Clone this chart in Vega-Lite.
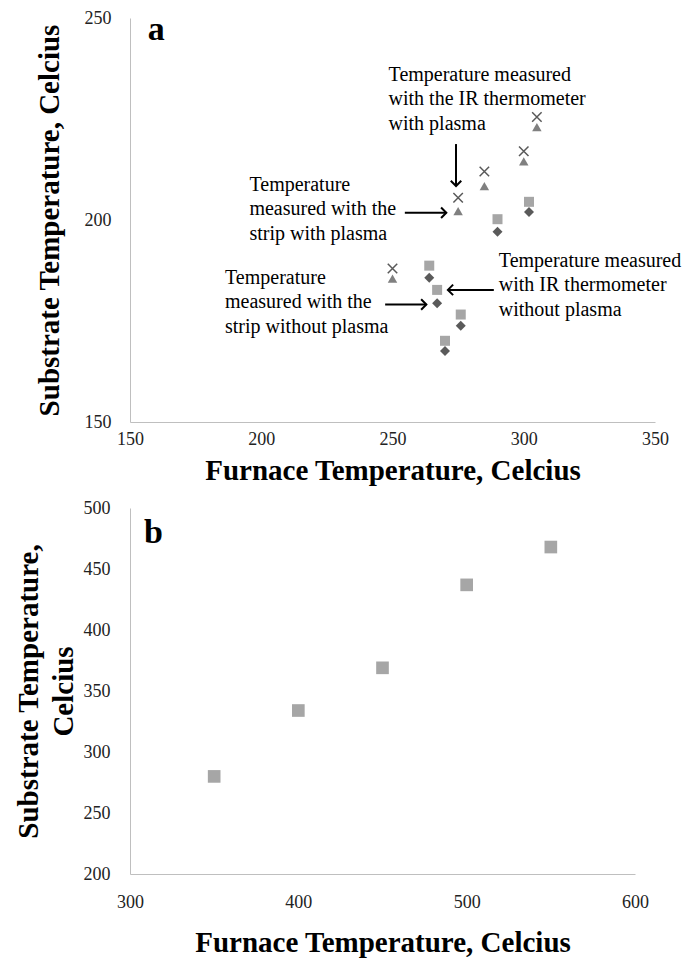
{
  "$schema": "https://vega.github.io/schema/vega-lite/v6.json",
  "background": "white",
  "padding": {"left": 14, "top": 9, "right": 2, "bottom": 2},
  "bounds": "flush",
  "spacing": 86,
  "config": {
    "font": "Liberation Serif",
    "view": {"stroke": null},
    "axis": {
      "domainColor": "#bfbfbf",
      "domainWidth": 1,
      "ticks": false,
      "grid": false,
      "labelFont": "Liberation Serif",
      "labelFontSize": 18,
      "labelColor": "#222222",
      "labelFlush": false,
      "titleFont": "Liberation Serif",
      "titleFontSize": 29,
      "titleFontWeight": "bold",
      "titleColor": "#000000"
    }
  },
  "datasets": {
    "panelA": [
      {"series": "IR with plasma", "furnace": 250, "substrate": 188},
      {"series": "IR with plasma", "furnace": 275, "substrate": 205.5},
      {"series": "IR with plasma", "furnace": 285, "substrate": 212},
      {"series": "IR with plasma", "furnace": 300, "substrate": 217},
      {"series": "IR with plasma", "furnace": 305, "substrate": 225.5},
      {"series": "strip with plasma", "furnace": 250, "substrate": 185.5},
      {"series": "strip with plasma", "furnace": 275, "substrate": 202.2},
      {"series": "strip with plasma", "furnace": 285, "substrate": 208.4},
      {"series": "strip with plasma", "furnace": 300, "substrate": 214.5},
      {"series": "strip with plasma", "furnace": 305, "substrate": 223},
      {"series": "IR without plasma", "furnace": 264, "substrate": 188.7},
      {"series": "IR without plasma", "furnace": 267, "substrate": 182.7},
      {"series": "IR without plasma", "furnace": 270, "substrate": 170.1},
      {"series": "IR without plasma", "furnace": 276, "substrate": 176.6},
      {"series": "IR without plasma", "furnace": 290, "substrate": 200.2},
      {"series": "IR without plasma", "furnace": 302, "substrate": 204.5},
      {"series": "strip without plasma", "furnace": 264, "substrate": 185.7},
      {"series": "strip without plasma", "furnace": 267, "substrate": 179.4},
      {"series": "strip without plasma", "furnace": 270, "substrate": 167.6},
      {"series": "strip without plasma", "furnace": 276, "substrate": 173.8},
      {"series": "strip without plasma", "furnace": 290, "substrate": 197.1},
      {"series": "strip without plasma", "furnace": 302, "substrate": 202}
    ],
    "arrowsA": [
      {"furnace": 274.2, "substrate": 208.4, "furnace2": 274.2, "substrate2": 218.8, "angle": 90},
      {"furnace": 270.5, "substrate": 201.8, "furnace2": 254.7, "substrate2": 201.8, "angle": 0},
      {"furnace": 262.9, "substrate": 179.1, "furnace2": 247.2, "substrate2": 179.1, "angle": 0},
      {"furnace": 271.1, "substrate": 182.7, "furnace2": 288.6, "substrate2": 182.7, "angle": 180}
    ],
    "notesA": [
      {"furnace": 248.5, "substrate": 235.9, "label": "Temperature measured\nwith the IR thermometer\nwith plasma"},
      {"furnace": 195.5, "substrate": 208.7, "label": "Temperature\nmeasured with the\nstrip with plasma"},
      {"furnace": 186.2, "substrate": 185.7, "label": "Temperature\nmeasured with the\nstrip without plasma"},
      {"furnace": 290.5, "substrate": 189.9, "label": "Temperature measured\nwith IR thermometer\nwithout plasma"}
    ],
    "tagA": [{"furnace": 160, "substrate": 244.6, "label": "a"}],
    "panelB": [
      {"furnace": 350, "substrate": 280},
      {"furnace": 400, "substrate": 334},
      {"furnace": 450, "substrate": 369},
      {"furnace": 500, "substrate": 437},
      {"furnace": 550, "substrate": 468}
    ],
    "tagB": [{"furnace": 314, "substrate": 471, "label": "b"}]
  },
  "vconcat": [
    {
      "width": 525,
      "height": 404,
      "encoding": {
        "x": {"field": "furnace", "type": "quantitative",
              "scale": {"domain": [150, 350], "nice": false, "zero": false},
              "axis": {"values": [150, 200, 250, 300, 350], "title": "Furnace Temperature, Celcius", "labelPadding": 8, "titlePadding": 8}},
        "y": {"field": "substrate", "type": "quantitative",
              "scale": {"domain": [150, 250], "nice": false, "zero": false},
              "axis": {"values": [150, 200, 250], "title": "Substrate Temperature, Celcius", "labelPadding": 19, "titlePadding": 20}}
      },
      "layer": [
        {"data": {"name": "panelA"}, "transform": [{"filter": "datum.series === 'strip with plasma'"}],
         "mark": {"type": "point", "shape": "triangle-up", "filled": true, "color": "#808080", "size": 90, "opacity": 1}},
        {"data": {"name": "panelA"}, "transform": [{"filter": "datum.series === 'IR with plasma'"}],
         "mark": {"type": "point", "shape": "M-1,-1L1,1M1,-1L-1,1", "filled": false, "stroke": "#595959", "strokeWidth": 1.5, "size": 90, "opacity": 1}},
        {"data": {"name": "panelA"}, "transform": [{"filter": "datum.series === 'IR without plasma'"}],
         "mark": {"type": "point", "shape": "square", "filled": true, "color": "#a6a6a6", "size": 100, "opacity": 1}},
        {"data": {"name": "panelA"}, "transform": [{"filter": "datum.series === 'strip without plasma'"}],
         "mark": {"type": "point", "shape": "diamond", "filled": true, "color": "#5a5a5a", "size": 100, "opacity": 1}},
        {"data": {"name": "arrowsA"},
         "mark": {"type": "rule", "color": "#000000", "strokeWidth": 2},
         "encoding": {"x2": {"field": "furnace2"}, "y2": {"field": "substrate2"}}},
        {"data": {"name": "arrowsA"},
         "mark": {"type": "point", "shape": "M-1,-1L0,0L-1,1", "filled": false, "stroke": "#000000", "strokeWidth": 2, "size": 110, "opacity": 1},
         "encoding": {"angle": {"field": "angle", "type": "quantitative", "scale": null}}},
        {"data": {"name": "notesA"},
         "mark": {"type": "text", "align": "left", "baseline": "middle", "fontSize": 20, "lineHeight": 24.5, "lineBreak": "\n", "color": "#000000", "font": "Liberation Serif"},
         "encoding": {"text": {"field": "label"}}},
        {"data": {"name": "tagA"},
         "mark": {"type": "text", "align": "center", "baseline": "alphabetic", "fontSize": 34, "fontWeight": "bold", "color": "#000000", "font": "Liberation Serif"},
         "encoding": {"text": {"field": "label"}}}
      ]
    },
    {
      "width": 505,
      "height": 366,
      "encoding": {
        "x": {"field": "furnace", "type": "quantitative",
              "scale": {"domain": [300, 600], "nice": false, "zero": false},
              "axis": {"values": [300, 400, 500, 600], "title": "Furnace Temperature, Celcius", "labelPadding": 19, "titlePadding": 17}},
        "y": {"field": "substrate", "type": "quantitative",
              "scale": {"domain": [200, 500], "nice": false, "zero": false},
              "axis": {"values": [200, 250, 300, 350, 400, 450, 500], "title": ["Substrate Temperature,", "Celcius"], "titleLineHeight": 35, "labelPadding": 20, "titlePadding": 5}}
      },
      "layer": [
        {"data": {"name": "panelB"},
         "mark": {"type": "point", "shape": "square", "filled": true, "color": "#a6a6a6", "size": 160, "opacity": 1}},
        {"data": {"name": "tagB"},
         "mark": {"type": "text", "align": "center", "baseline": "alphabetic", "fontSize": 34, "fontWeight": "bold", "color": "#000000", "font": "Liberation Serif"},
         "encoding": {"text": {"field": "label"}}}
      ]
    }
  ]
}
